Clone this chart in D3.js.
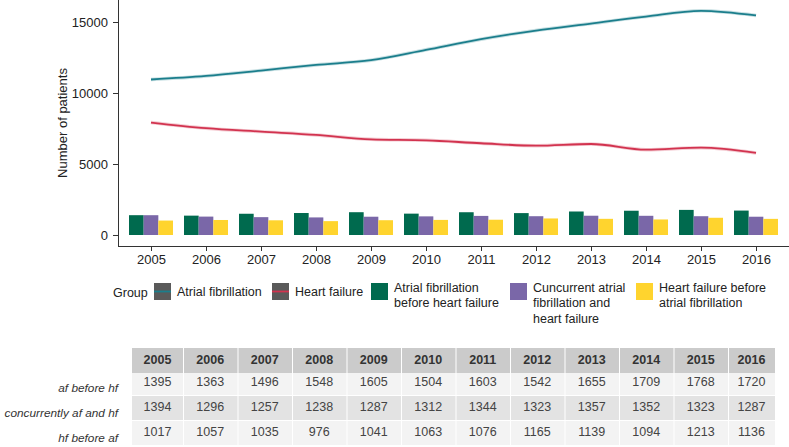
<!DOCTYPE html>
<html>
<head>
<meta charset="utf-8">
<script src="https://cdn.jsdelivr.net/npm/d3@7"></script>
<style>
html,body{margin:0;padding:0;background:#fff;}
svg{display:block;font-family:"Liberation Sans",Arial,Helvetica,sans-serif;}
</style>
</head>
<body>
<svg id="chart" width="789" height="447"></svg>
<script>
const years = ["2005","2006","2007","2008","2009","2010","2011","2012","2013","2014","2015","2016"];
const afTotal = [10950,11200,11580,11980,12310,13040,13790,14400,14890,15380,15790,15460];
const hfTotal = [7920,7520,7280,7050,6740,6670,6460,6290,6410,6010,6150,5780];
const afBeforeHf = [1395,1363,1496,1548,1605,1504,1603,1542,1655,1709,1768,1720];
const concurrent = [1394,1296,1257,1238,1287,1312,1344,1323,1357,1352,1323,1287];
const hfBeforeAf = [1017,1057,1035,976,1041,1063,1076,1165,1139,1094,1213,1136];
const yTicks = [0,5000,10000,15000];
const lineNames = ["Atrial fibrillation","Heart failure"];
const barNames = [["Atrial fibrillation","before heart failure"],["Cuncurrent atrial","fibrillation and","heart failure"],["Heart failure before","atrial fibrillation"]];
const rowLabels = ["af before hf","concurrently af and hf","hf before af"];

const lineColors = ["#1b7e8c","#d2334f"];
const barColors = ["#006a4e","#7a67a8","#ffd42e"];

const svg = d3.select("#chart");
const x = d3.scalePoint().domain(years).range([118,789]).padding(0.6);
const y = d3.scaleLinear().domain([-775,16550]).range([246,0]);
const step = x.step();
const bw = step*0.8/3;

// bars
const barSeries = [afBeforeHf, concurrent, hfBeforeAf];
barSeries.forEach((s,k)=>{
  svg.append("g").selectAll("rect").data(years).join("rect")
    .attr("x", (d)=> x(d) - step*0.4 + k*bw)
    .attr("y", (d,i)=> y(s[i]))
    .attr("width", bw)
    .attr("height", (d,i)=> y(0)-y(s[i]))
    .attr("fill", barColors[k]);
});

// lines
[afTotal, hfTotal].forEach((s,k)=>{
  const line = d3.line().x((d,i)=>x(years[i])).y(d=>y(d)).curve(d3.curveMonotoneX);
  svg.append("path").datum(s).attr("d", line).attr("fill","none")
    .attr("stroke", lineColors[k]).attr("stroke-width",3.5).attr("stroke-opacity",0.25);
  svg.append("path").datum(s).attr("d", line).attr("fill","none")
    .attr("stroke", lineColors[k]).attr("stroke-width",1.8);
});

// axes
const yAxis = svg.append("g").attr("transform","translate(118,0)")
  .call(d3.axisLeft(y).tickValues(yTicks).tickFormat(d3.format("d")).tickSize(5).tickSizeOuter(0).tickPadding(5));
const xAxis = svg.append("g").attr("transform","translate(0,246)")
  .call(d3.axisBottom(x).tickSize(5).tickSizeOuter(0).tickPadding(4));
[yAxis,xAxis].forEach(g=>{
  g.select(".domain").attr("stroke","#333");
  g.selectAll(".tick line").attr("stroke","#333");
  g.selectAll(".tick text").attr("fill","#222").style("font-size","13px").style("font-family","Liberation Sans, Arial, sans-serif");
});
xAxis.select(".domain").attr("d","M118,0.5H789");
yAxis.select(".domain").attr("d","M0.5,0V246");

svg.append("text").attr("transform","translate(67,123) rotate(-90)")
  .attr("text-anchor","middle").style("font-size","13px").attr("fill","#222").text("Number of patients");

// legend
const lg = svg.append("g").style("font-size","12.5px").attr("fill","#222");
lg.append("text").attr("x",113).attr("y",296.5).text("Group");
const lineKeyX = [154,272];
lineNames.forEach((n,k)=>{
  lg.append("rect").attr("x",lineKeyX[k]).attr("y",283).attr("width",17).attr("height",17).attr("fill","#5a5a5a");
  lg.append("line").attr("x1",lineKeyX[k]).attr("x2",lineKeyX[k]+17).attr("y1",291.5).attr("y2",291.5)
    .attr("stroke",lineColors[k]).attr("stroke-width",1.8);
  lg.append("text").attr("x",lineKeyX[k]+23).attr("y",296).text(n);
});
const barKeyX = [371,510,636];
barNames.forEach((lines,k)=>{
  lg.append("rect").attr("x",barKeyX[k]).attr("y",283).attr("width",17).attr("height",17).attr("fill",barColors[k]);
  const t = lg.append("text").attr("x",barKeyX[k]+23).attr("y",291.5);
  lines.forEach((l,j)=>{
    t.append("tspan").attr("x",barKeyX[k]+23).attr("y",291.5+j*15.5).text(l);
  });
});

// table
const tx = d3.scaleBand().domain(years).range([128.5,782.5]);
const colL = (d)=> Math.max(132, tx(d));
const colR = (d)=> Math.min(775, tx(d)+tx.bandwidth());
const rowTops = [348,373,396,421];
const rowH = [25,22,24,24];
const rowFill = ["#cbcbcb","#f3f3f3","#e3e3e3","#f3f3f3"];
const tableRows = [afBeforeHf, concurrent, hfBeforeAf];
const tg = svg.append("g");
rowTops.forEach((top,r)=>{
  tg.append("g").selectAll("rect").data(years).join("rect")
    .attr("x", d=>colL(d)+ (d===years[0]?0:1))
    .attr("y", top)
    .attr("width", d=>colR(d)-colL(d)-(d===years[0]?0:1))
    .attr("height", rowH[r])
    .attr("fill", rowFill[r]);
});
tg.append("g").selectAll("text").data(years).join("text")
  .attr("x", d=>(colL(d)+colR(d))/2).attr("y",364)
  .attr("text-anchor","middle").style("font-size","12.5px").style("font-weight","bold").attr("fill","#333")
  .text(d=>d);
const valY = [386,411,436];
tableRows.forEach((s,r)=>{
  tg.append("g").selectAll("text").data(years).join("text")
    .attr("x", d=>(colL(d)+colR(d))/2).attr("y",valY[r])
    .attr("text-anchor","middle").style("font-size","12.5px").attr("fill","#444")
    .text((d,i)=>s[i]);
  tg.append("text").attr("x",118).attr("y",valY[r]+6).attr("text-anchor","end")
    .style("font-size","11.8px").style("font-style","italic").attr("fill","#333").text(rowLabels[r]);
});
</script>
</body>
</html>
